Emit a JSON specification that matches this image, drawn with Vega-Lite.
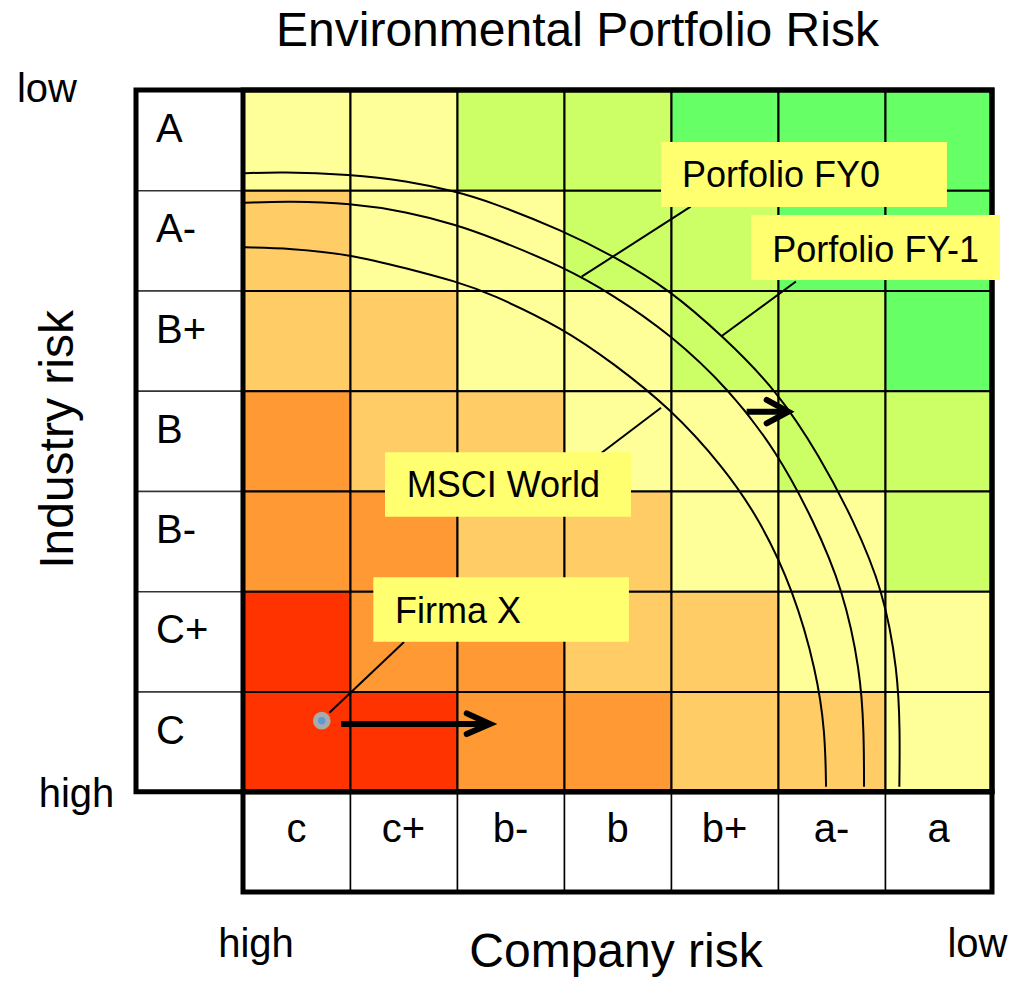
{
  "$schema": "https://vega.github.io/schema/vega-lite/v6.json",
  "width": 856,
  "height": 802,
  "autosize": {"type": "none"},
  "padding": {"left": 136, "top": 90, "right": 21, "bottom": 94},
  "background": "white",
  "config": {"view": {"stroke": null}, "text": {"font": "Liberation Sans", "color": "black"}},
  "datasets": {
    "cells": [
      {"company": "c", "industry": "A", "col": 0, "row": 6, "score": 4},
      {"company": "c+", "industry": "A", "col": 1, "row": 6, "score": 4},
      {"company": "b-", "industry": "A", "col": 2, "row": 6, "score": 5},
      {"company": "b", "industry": "A", "col": 3, "row": 6, "score": 5},
      {"company": "b+", "industry": "A", "col": 4, "row": 6, "score": 6},
      {"company": "a-", "industry": "A", "col": 5, "row": 6, "score": 6},
      {"company": "a", "industry": "A", "col": 6, "row": 6, "score": 6},
      {"company": "c", "industry": "A-", "col": 0, "row": 5, "score": 3},
      {"company": "c+", "industry": "A-", "col": 1, "row": 5, "score": 4},
      {"company": "b-", "industry": "A-", "col": 2, "row": 5, "score": 4},
      {"company": "b", "industry": "A-", "col": 3, "row": 5, "score": 5},
      {"company": "b+", "industry": "A-", "col": 4, "row": 5, "score": 5},
      {"company": "a-", "industry": "A-", "col": 5, "row": 5, "score": 6},
      {"company": "a", "industry": "A-", "col": 6, "row": 5, "score": 6},
      {"company": "c", "industry": "B+", "col": 0, "row": 4, "score": 3},
      {"company": "c+", "industry": "B+", "col": 1, "row": 4, "score": 3},
      {"company": "b-", "industry": "B+", "col": 2, "row": 4, "score": 4},
      {"company": "b", "industry": "B+", "col": 3, "row": 4, "score": 4},
      {"company": "b+", "industry": "B+", "col": 4, "row": 4, "score": 5},
      {"company": "a-", "industry": "B+", "col": 5, "row": 4, "score": 5},
      {"company": "a", "industry": "B+", "col": 6, "row": 4, "score": 6},
      {"company": "c", "industry": "B", "col": 0, "row": 3, "score": 2},
      {"company": "c+", "industry": "B", "col": 1, "row": 3, "score": 3},
      {"company": "b-", "industry": "B", "col": 2, "row": 3, "score": 3},
      {"company": "b", "industry": "B", "col": 3, "row": 3, "score": 4},
      {"company": "b+", "industry": "B", "col": 4, "row": 3, "score": 4},
      {"company": "a-", "industry": "B", "col": 5, "row": 3, "score": 5},
      {"company": "a", "industry": "B", "col": 6, "row": 3, "score": 5},
      {"company": "c", "industry": "B-", "col": 0, "row": 2, "score": 2},
      {"company": "c+", "industry": "B-", "col": 1, "row": 2, "score": 2},
      {"company": "b-", "industry": "B-", "col": 2, "row": 2, "score": 3},
      {"company": "b", "industry": "B-", "col": 3, "row": 2, "score": 3},
      {"company": "b+", "industry": "B-", "col": 4, "row": 2, "score": 4},
      {"company": "a-", "industry": "B-", "col": 5, "row": 2, "score": 4},
      {"company": "a", "industry": "B-", "col": 6, "row": 2, "score": 5},
      {"company": "c", "industry": "C+", "col": 0, "row": 1, "score": 1},
      {"company": "c+", "industry": "C+", "col": 1, "row": 1, "score": 2},
      {"company": "b-", "industry": "C+", "col": 2, "row": 1, "score": 2},
      {"company": "b", "industry": "C+", "col": 3, "row": 1, "score": 3},
      {"company": "b+", "industry": "C+", "col": 4, "row": 1, "score": 3},
      {"company": "a-", "industry": "C+", "col": 5, "row": 1, "score": 4},
      {"company": "a", "industry": "C+", "col": 6, "row": 1, "score": 4},
      {"company": "c", "industry": "C", "col": 0, "row": 0, "score": 1},
      {"company": "c+", "industry": "C", "col": 1, "row": 0, "score": 1},
      {"company": "b-", "industry": "C", "col": 2, "row": 0, "score": 2},
      {"company": "b", "industry": "C", "col": 3, "row": 0, "score": 2},
      {"company": "b+", "industry": "C", "col": 4, "row": 0, "score": 3},
      {"company": "a-", "industry": "C", "col": 5, "row": 0, "score": 3},
      {"company": "a", "industry": "C", "col": 6, "row": 0, "score": 4}
    ],
    "industries": [
      {"rating": "A", "row": 6}, {"rating": "A-", "row": 5}, {"rating": "B+", "row": 4},
      {"rating": "B", "row": 3}, {"rating": "B-", "row": 2}, {"rating": "C+", "row": 1}, {"rating": "C", "row": 0}
    ],
    "companies": [
      {"rating": "c", "col": 0}, {"rating": "c+", "col": 1}, {"rating": "b-", "col": 2},
      {"rating": "b", "col": 3}, {"rating": "b+", "col": 4}, {"rating": "a-", "col": 5}, {"rating": "a", "col": 6}
    ],
    "frames": [
      {"part": "grid with industry ratings", "x0": -1, "x1": 7, "y0": 0, "y1": 7},
      {"part": "rating grid", "x0": 0, "x1": 7, "y0": 0, "y1": 7},
      {"part": "company ratings", "x0": 0, "x1": 7, "y0": -1, "y1": 0}
    ],
    "arcs": [
      {"series": "Porfolio FY-1", "seq": 1, "x": 0.019, "y": 6.169},
      {"series": "Porfolio FY-1", "seq": 2, "x": 0.346, "y": 6.185},
      {"series": "Porfolio FY-1", "seq": 3, "x": 1.0, "y": 6.159},
      {"series": "Porfolio FY-1", "seq": 4, "x": 1.53, "y": 6.095},
      {"series": "Porfolio FY-1", "seq": 5, "x": 1.997, "y": 5.986},
      {"series": "Porfolio FY-1", "seq": 6, "x": 2.308, "y": 5.886},
      {"series": "Porfolio FY-1", "seq": 7, "x": 2.993, "y": 5.596},
      {"series": "Porfolio FY-1", "seq": 8, "x": 3.46, "y": 5.344},
      {"series": "Porfolio FY-1", "seq": 9, "x": 3.991, "y": 5.005},
      {"series": "Porfolio FY-1", "seq": 10, "x": 4.489, "y": 4.539},
      {"series": "Porfolio FY-1", "seq": 11, "x": 4.988, "y": 4.007},
      {"series": "Porfolio FY-1", "seq": 12, "x": 5.393, "y": 3.342},
      {"series": "Porfolio FY-1", "seq": 13, "x": 5.704, "y": 2.711},
      {"series": "Porfolio FY-1", "seq": 14, "x": 5.984, "y": 2.012},
      {"series": "Porfolio FY-1", "seq": 15, "x": 6.12, "y": 1.2},
      {"series": "Porfolio FY-1", "seq": 16, "x": 6.14, "y": 0.6},
      {"series": "Porfolio FY-1", "seq": 17, "x": 6.134, "y": 0.05},
      {"series": "Porfolio FY0", "seq": 1, "x": 0.019, "y": 5.876},
      {"series": "Porfolio FY0", "seq": 2, "x": 0.439, "y": 5.89},
      {"series": "Porfolio FY0", "seq": 3, "x": 1.0, "y": 5.87},
      {"series": "Porfolio FY0", "seq": 4, "x": 1.53, "y": 5.786},
      {"series": "Porfolio FY0", "seq": 5, "x": 1.997, "y": 5.653},
      {"series": "Porfolio FY0", "seq": 6, "x": 2.308, "y": 5.537},
      {"series": "Porfolio FY0", "seq": 7, "x": 2.993, "y": 5.237},
      {"series": "Porfolio FY0", "seq": 8, "x": 3.46, "y": 4.955},
      {"series": "Porfolio FY0", "seq": 9, "x": 3.991, "y": 4.566},
      {"series": "Porfolio FY0", "seq": 10, "x": 4.551, "y": 4.007},
      {"series": "Porfolio FY0", "seq": 11, "x": 4.988, "y": 3.392},
      {"series": "Porfolio FY0", "seq": 12, "x": 5.33, "y": 2.711},
      {"series": "Porfolio FY0", "seq": 13, "x": 5.61, "y": 2.012},
      {"series": "Porfolio FY0", "seq": 14, "x": 5.77, "y": 1.2},
      {"series": "Porfolio FY0", "seq": 15, "x": 5.803, "y": 0.6},
      {"series": "Porfolio FY0", "seq": 16, "x": 5.804, "y": 0.05},
      {"series": "MSCI World", "seq": 1, "x": 0.019, "y": 5.431},
      {"series": "MSCI World", "seq": 2, "x": 0.439, "y": 5.421},
      {"series": "MSCI World", "seq": 3, "x": 1.0, "y": 5.361},
      {"series": "MSCI World", "seq": 4, "x": 1.53, "y": 5.221},
      {"series": "MSCI World", "seq": 5, "x": 1.997, "y": 5.088},
      {"series": "MSCI World", "seq": 6, "x": 2.308, "y": 4.972},
      {"series": "MSCI World", "seq": 7, "x": 2.993, "y": 4.623},
      {"series": "MSCI World", "seq": 8, "x": 3.46, "y": 4.274},
      {"series": "MSCI World", "seq": 9, "x": 3.991, "y": 3.828},
      {"series": "MSCI World", "seq": 10, "x": 4.489, "y": 3.242},
      {"series": "MSCI World", "seq": 11, "x": 4.832, "y": 2.711},
      {"series": "MSCI World", "seq": 12, "x": 5.143, "y": 2.012},
      {"series": "MSCI World", "seq": 13, "x": 5.36, "y": 1.2},
      {"series": "MSCI World", "seq": 14, "x": 5.44, "y": 0.6},
      {"series": "MSCI World", "seq": 15, "x": 5.449, "y": 0.05}
    ],
    "callouts": [
      {"label": "Porfolio FY0", "box_x0": 3.907, "box_x1": 6.579, "box_y0": 5.833, "box_y1": 6.481, "text_x": 4.103, "text_y": 6.032, "lead_x0": 3.165, "lead_y0": 5.138, "lead_x1": 4.184, "lead_y1": 5.836},
      {"label": "Porfolio FY-1", "box_x0": 4.748, "box_x1": 7.075, "box_y0": 5.105, "box_y1": 5.753, "text_x": 4.947, "text_y": 5.287, "lead_x0": 4.474, "lead_y0": 4.546, "lead_x1": 5.168, "lead_y1": 5.09},
      {"label": "MSCI World", "box_x0": 1.327, "box_x1": 3.626, "box_y0": 2.744, "box_y1": 3.386, "text_x": 1.53, "text_y": 2.943, "lead_x0": 3.352, "lead_y0": 3.382, "lead_x1": 3.907, "lead_y1": 3.831},
      {"label": "Firma X", "box_x0": 1.218, "box_x1": 3.607, "box_y0": 1.497, "box_y1": 2.139, "text_x": 1.421, "text_y": 1.68, "lead_x0": 0.807, "lead_y0": 0.789, "lead_x1": 1.505, "lead_y1": 1.494}
    ],
    "shafts": [
      {"name": "Firma X", "x0": 0.916, "x1": 2.271, "y": 0.676},
      {"name": "Portfolio", "x0": 4.707, "x1": 5.056, "y": 3.791}
    ],
    "heads": [
      {"name": "Firma X", "seq": 1, "x": 2.091, "y": 0.782},
      {"name": "Firma X", "seq": 2, "x": 2.308, "y": 0.676},
      {"name": "Firma X", "seq": 3, "x": 2.091, "y": 0.576},
      {"name": "Portfolio", "seq": 1, "x": 4.894, "y": 3.908},
      {"name": "Portfolio", "seq": 2, "x": 5.096, "y": 3.791},
      {"name": "Portfolio", "seq": 3, "x": 4.894, "y": 3.675}
    ],
    "firm": [{"name": "Firma X", "x": 0.736, "y": 0.709}],
    "bigText": [
      {"text": "Environmental Portfolio Risk", "x": 3.126, "y": 7.439},
      {"text": "Company risk", "x": 3.486, "y": -1.748}
    ],
    "smallText": [
      {"text": "low", "x": -1.832, "y": 6.88},
      {"text": "high", "x": -1.556, "y": -0.152},
      {"text": "high", "x": 0.121, "y": -1.648},
      {"text": "low", "x": 6.864, "y": -1.648}
    ],
    "vertText": [{"text": "Industry risk", "x": -1.589, "y": 3.514}]
  },
  "layer": [
    {
      "data": {"name": "cells"},
      "mark": {"type": "rect", "stroke": "black", "strokeWidth": 2},
      "encoding": {
        "x": {"field": "col", "type": "quantitative", "bin": {"step": 1, "extent": [-1, 7]}, "scale": {"domain": [-1, 7], "nice": false, "zero": false}, "axis": null},
        "y": {"field": "row", "type": "quantitative", "bin": {"step": 1, "extent": [-1, 7]}, "scale": {"domain": [-1, 7], "nice": false, "zero": false}, "axis": null},
        "color": {"field": "score", "type": "ordinal", "scale": {"domain": [1, 2, 3, 4, 5, 6], "range": ["#FF3300", "#FF9933", "#FFCC66", "#FFFF99", "#CCFF66", "#66FF66"]}, "legend": null}
      }
    },
    {
      "data": {"name": "industries"},
      "mark": {"type": "rect", "fill": "white", "stroke": "#333333", "strokeWidth": 1.5},
      "encoding": {
        "x": {"datum": -1, "type": "quantitative", "scale": {"domain": [-1, 7], "nice": false, "zero": false}, "axis": null},
        "x2": {"datum": 0},
        "y": {"field": "row", "type": "quantitative", "bin": {"step": 1, "extent": [-1, 7]}, "scale": {"domain": [-1, 7], "nice": false, "zero": false}, "axis": null}
      }
    },
    {
      "data": {"name": "companies"},
      "mark": {"type": "rect", "fill": "white", "stroke": "black", "strokeWidth": 1.5},
      "encoding": {
        "x": {"field": "col", "type": "quantitative", "bin": {"step": 1, "extent": [-1, 7]}, "scale": {"domain": [-1, 7], "nice": false, "zero": false}, "axis": null},
        "y": {"datum": -1, "type": "quantitative", "scale": {"domain": [-1, 7], "nice": false, "zero": false}, "axis": null},
        "y2": {"datum": 0}
      }
    },
    {
      "data": {"name": "frames"},
      "mark": {"type": "rect", "filled": false, "stroke": "black", "strokeWidth": 5},
      "encoding": {
        "x": {"field": "x0", "type": "quantitative", "scale": {"domain": [-1, 7], "nice": false, "zero": false}, "axis": null},
        "x2": {"field": "x1"},
        "y": {"field": "y0", "type": "quantitative", "scale": {"domain": [-1, 7], "nice": false, "zero": false}, "axis": null},
        "y2": {"field": "y1"}
      }
    },
    {
      "data": {"name": "arcs"},
      "mark": {"type": "line", "interpolate": "basis", "stroke": "black", "strokeWidth": 2},
      "encoding": {
        "x": {"field": "x", "type": "quantitative", "scale": {"domain": [-1, 7], "nice": false, "zero": false}, "axis": null},
        "y": {"field": "y", "type": "quantitative", "scale": {"domain": [-1, 7], "nice": false, "zero": false}, "axis": null},
        "detail": {"field": "series", "type": "nominal"},
        "order": {"field": "seq", "type": "quantitative"}
      }
    },
    {
      "data": {"name": "callouts"},
      "mark": {"type": "rule", "stroke": "black", "strokeWidth": 2},
      "encoding": {
        "x": {"field": "lead_x0", "type": "quantitative", "scale": {"domain": [-1, 7], "nice": false, "zero": false}, "axis": null},
        "x2": {"field": "lead_x1"},
        "y": {"field": "lead_y0", "type": "quantitative", "scale": {"domain": [-1, 7], "nice": false, "zero": false}, "axis": null},
        "y2": {"field": "lead_y1"}
      }
    },
    {
      "data": {"name": "callouts"},
      "mark": {"type": "rect", "fill": "#FFFF70"},
      "encoding": {
        "x": {"field": "box_x0", "type": "quantitative", "scale": {"domain": [-1, 7], "nice": false, "zero": false}, "axis": null},
        "x2": {"field": "box_x1"},
        "y": {"field": "box_y0", "type": "quantitative", "scale": {"domain": [-1, 7], "nice": false, "zero": false}, "axis": null},
        "y2": {"field": "box_y1"}
      }
    },
    {
      "data": {"name": "callouts"},
      "mark": {"type": "text", "align": "left", "baseline": "alphabetic", "fontSize": 36},
      "encoding": {
        "x": {"field": "text_x", "type": "quantitative", "scale": {"domain": [-1, 7], "nice": false, "zero": false}, "axis": null},
        "y": {"field": "text_y", "type": "quantitative", "scale": {"domain": [-1, 7], "nice": false, "zero": false}, "axis": null},
        "text": {"field": "label"}
      }
    },
    {
      "data": {"name": "industries"},
      "mark": {"type": "text", "align": "left", "baseline": "alphabetic", "fontSize": 40},
      "encoding": {
        "x": {"datum": -0.813, "type": "quantitative", "scale": {"domain": [-1, 7], "nice": false, "zero": false}, "axis": null},
        "y": {"field": "row", "type": "quantitative", "bin": {"step": 1, "extent": [-1, 7]}, "bandPosition": 0.48, "scale": {"domain": [-1, 7], "nice": false, "zero": false}, "axis": null},
        "text": {"field": "rating"}
      }
    },
    {
      "data": {"name": "companies"},
      "mark": {"type": "text", "align": "center", "baseline": "alphabetic", "fontSize": 40},
      "encoding": {
        "x": {"field": "col", "type": "quantitative", "bin": {"step": 1, "extent": [-1, 7]}, "bandPosition": 0.5, "scale": {"domain": [-1, 7], "nice": false, "zero": false}, "axis": null},
        "y": {"datum": -0.5, "type": "quantitative", "scale": {"domain": [-1, 7], "nice": false, "zero": false}, "axis": null},
        "text": {"field": "rating"}
      }
    },
    {
      "data": {"name": "shafts"},
      "mark": {"type": "rule", "stroke": "black", "strokeWidth": 6, "strokeCap": "butt"},
      "encoding": {
        "x": {"field": "x0", "type": "quantitative", "scale": {"domain": [-1, 7], "nice": false, "zero": false}, "axis": null},
        "x2": {"field": "x1"},
        "y": {"field": "y", "type": "quantitative", "scale": {"domain": [-1, 7], "nice": false, "zero": false}, "axis": null}
      }
    },
    {
      "data": {"name": "heads"},
      "mark": {"type": "line", "stroke": "black", "strokeWidth": 6, "strokeCap": "round", "strokeJoin": "miter"},
      "encoding": {
        "x": {"field": "x", "type": "quantitative", "scale": {"domain": [-1, 7], "nice": false, "zero": false}, "axis": null},
        "y": {"field": "y", "type": "quantitative", "scale": {"domain": [-1, 7], "nice": false, "zero": false}, "axis": null},
        "detail": {"field": "name", "type": "nominal"},
        "order": {"field": "seq", "type": "quantitative"}
      }
    },
    {
      "data": {"name": "firm"},
      "mark": {"type": "point", "shape": "circle", "filled": true, "fill": "#AAAAAA", "opacity": 1, "size": 314},
      "encoding": {
        "x": {"field": "x", "type": "quantitative", "scale": {"domain": [-1, 7], "nice": false, "zero": false}, "axis": null},
        "y": {"field": "y", "type": "quantitative", "scale": {"domain": [-1, 7], "nice": false, "zero": false}, "axis": null}
      }
    },
    {
      "data": {"name": "firm"},
      "mark": {"type": "point", "shape": "circle", "filled": true, "fill": "#5B9BD5", "opacity": 1, "size": 55},
      "encoding": {
        "x": {"field": "x", "type": "quantitative", "scale": {"domain": [-1, 7], "nice": false, "zero": false}, "axis": null},
        "y": {"field": "y", "type": "quantitative", "scale": {"domain": [-1, 7], "nice": false, "zero": false}, "axis": null}
      }
    },
    {
      "data": {"name": "bigText"},
      "mark": {"type": "text", "align": "center", "baseline": "alphabetic", "fontSize": 48},
      "encoding": {
        "x": {"field": "x", "type": "quantitative", "scale": {"domain": [-1, 7], "nice": false, "zero": false}, "axis": null},
        "y": {"field": "y", "type": "quantitative", "scale": {"domain": [-1, 7], "nice": false, "zero": false}, "axis": null},
        "text": {"field": "text"}
      }
    },
    {
      "data": {"name": "smallText"},
      "mark": {"type": "text", "align": "center", "baseline": "alphabetic", "fontSize": 40},
      "encoding": {
        "x": {"field": "x", "type": "quantitative", "scale": {"domain": [-1, 7], "nice": false, "zero": false}, "axis": null},
        "y": {"field": "y", "type": "quantitative", "scale": {"domain": [-1, 7], "nice": false, "zero": false}, "axis": null},
        "text": {"field": "text"}
      }
    },
    {
      "data": {"name": "vertText"},
      "mark": {"type": "text", "align": "center", "baseline": "alphabetic", "fontSize": 48, "angle": 270},
      "encoding": {
        "x": {"field": "x", "type": "quantitative", "scale": {"domain": [-1, 7], "nice": false, "zero": false}, "axis": null},
        "y": {"field": "y", "type": "quantitative", "scale": {"domain": [-1, 7], "nice": false, "zero": false}, "axis": null},
        "text": {"field": "text"}
      }
    }
  ]
}
